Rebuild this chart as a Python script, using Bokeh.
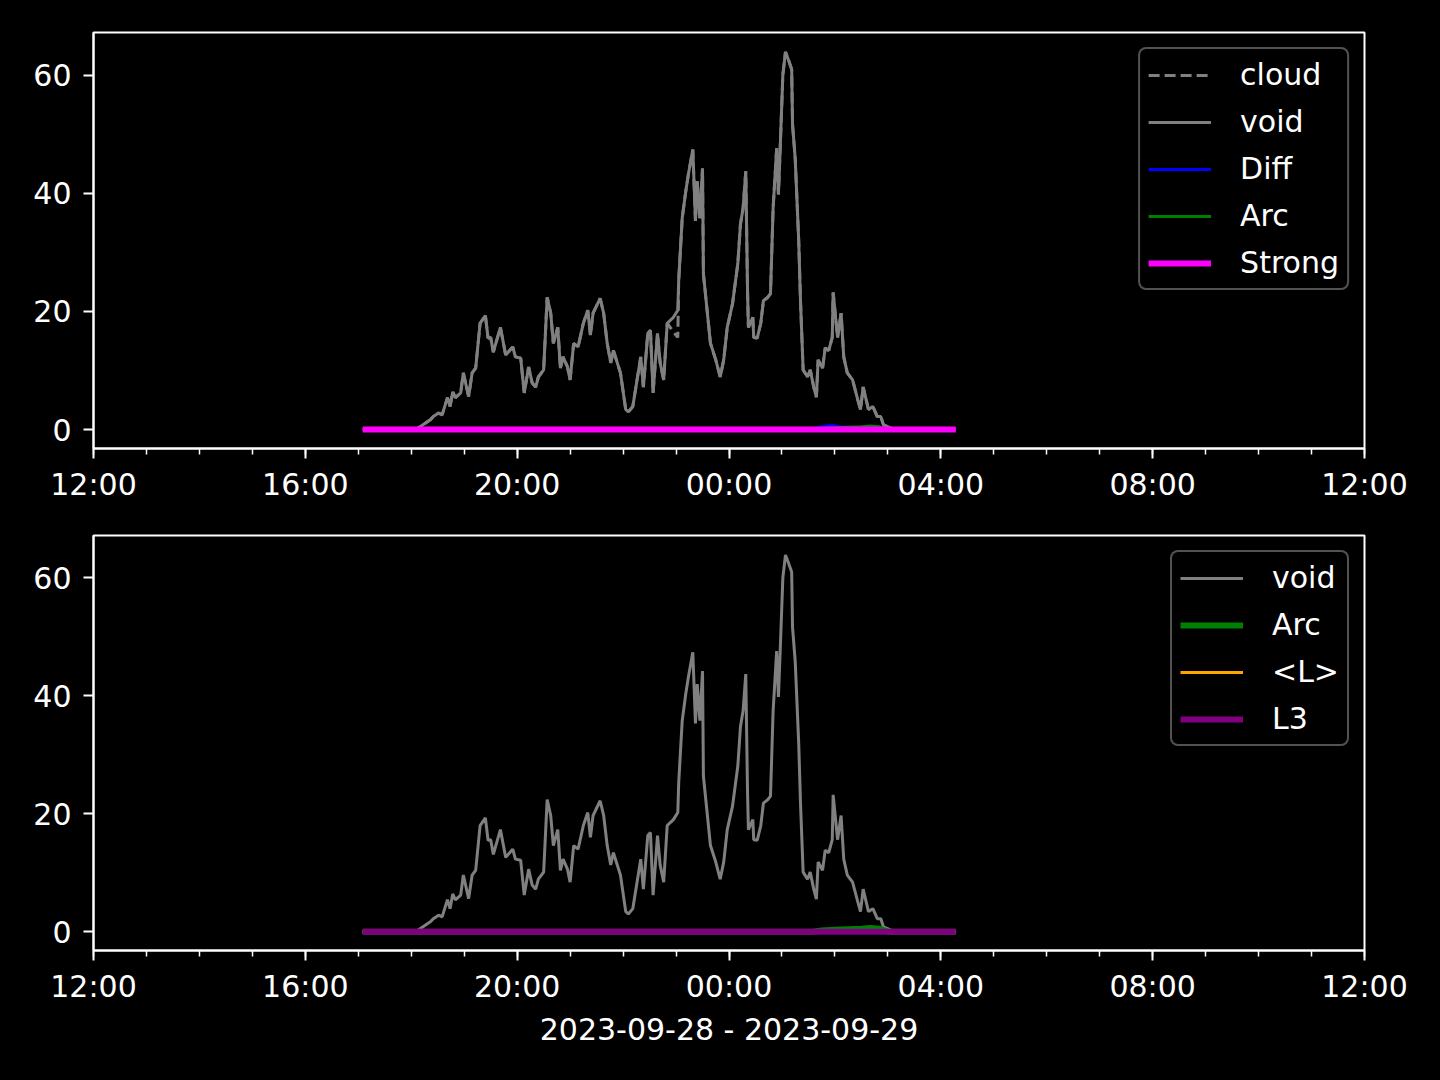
import pandas as pd
from bokeh.plotting import figure
from bokeh.layouts import column
from bokeh.models import Range1d, FixedTicker, DatetimeTickFormatter, Legend, LegendItem
from bokeh.embed import file_html
from bokeh.resources import INLINE

# ---------------- data ----------------
void_times = ["17:05","18:05","18:10","18:22","18:25","18:31","18:35","18:41","18:44","18:47",
              "18:50","18:56","18:59","19:05","19:09","19:13","19:18","19:24","19:27","19:30",
              "19:33","19:41","19:47","19:55","19:58","20:04","20:08","20:13","20:17","20:21",
              "20:24","20:30","20:34","20:38","20:41","20:46","20:49","20:52","20:57","21:00",
              "21:04","21:09","21:15","21:20","21:23","21:26","21:34","21:38","21:42","21:46",
              "21:49","21:57","22:03","22:06","22:11","22:14","22:20","22:23","22:28","22:31",
              "22:34","22:39","22:42","22:46","22:50","22:57","23:02","23:03","23:07","23:11",
              "23:14","23:19","23:22","23:24","23:27","23:30","23:31","23:36","23:39","23:45",
              "23:50","23:54","23:58","00:04","00:10","00:13","00:16","00:19","00:21","00:22",
              "00:27","00:28","00:32","00:36","00:39","00:44","00:47","00:50","00:54","00:56",
              "00:58","01:01","01:04","01:07","01:11","01:12","01:15","01:19","01:21","01:24",
              "01:29","01:32","01:36","01:39","01:41","01:46","01:49","01:53","01:57","01:58",
              "02:03","02:07","02:10","02:14","02:20","02:26","02:29","02:32","02:38","02:43",
              "02:48","02:52","02:55","03:03","03:10","04:17"]
void_values = [0, 0, 0.5, 1.7, 2.2, 2.8, 2.5, 5.4, 3.9, 6.4,
               5.4, 6.2, 9.6, 5.6, 9.6, 10.4, 18.0, 19.3, 15.5, 15.6,
               13.1, 17.3, 12.6, 14.0, 12.3, 12.1, 6.2, 10.6, 7.9, 7.2,
               8.9, 10.1, 22.4, 19.7, 14.6, 17.3, 10.4, 12.3, 10.6, 8.4,
               14.6, 14.0, 18.0, 20.2, 16.0, 19.7, 22.2, 19.7, 14.6, 11.3,
               13.4, 9.6, 3.4, 3.0, 3.9, 6.7, 12.3, 7.2, 16.3, 16.8,
               6.2, 16.3, 11.3, 8.4, 18.0, 19.0, 20.2, 25.2, 35.8, 40.3,
               43.2, 47.4, 35.3, 42.0, 35.8, 44.2, 26.4, 19.0, 14.6, 11.8,
               8.9, 11.8, 17.3, 21.3, 28.1, 34.8, 37.5, 43.7, 23.5, 17.3,
               19.0, 15.6, 15.5, 18.0, 21.8, 22.4, 23.0, 37.5, 47.6, 39.8,
               47.6, 60.0, 63.9, 62.7, 61.0, 51.6, 45.9, 31.9, 21.8, 10.1,
               8.9, 10.1, 7.2, 5.5, 11.8, 10.4, 13.8, 13.4, 15.6, 23.2,
               15.6, 19.7, 12.3, 9.6, 8.4, 5.0, 3.4, 7.2, 3.4, 3.9,
               2.2, 2.2, 0.8, 0.3, 0, 0]

# cloud follows void almost everywhere (hidden beneath it), differing only near 23:00
cloud_times = void_times
cloud_values = [0, 0, 0.5, 1.7, 2.2, 2.8, 2.5, 5.4, 3.9, 6.4,
                5.4, 6.2, 9.6, 5.6, 9.6, 10.4, 18.0, 19.3, 15.5, 15.6,
                13.1, 17.3, 12.6, 14.0, 12.3, 12.1, 6.2, 10.6, 7.9, 7.2,
                8.9, 10.1, 22.4, 19.7, 14.6, 17.3, 10.4, 12.3, 10.6, 8.4,
                14.6, 14.0, 18.0, 20.2, 16.0, 19.7, 22.2, 19.7, 14.6, 11.3,
                13.4, 9.6, 3.4, 3.0, 3.9, 6.7, 12.3, 7.2, 16.3, 16.8,
                6.2, 16.3, 11.3, 8.4, 18.0, 16.5, 15.6, 25.2, 35.8, 40.3,
                43.2, 47.4, 35.3, 42.0, 35.8, 44.2, 26.4, 19.0, 14.6, 11.8,
                8.9, 11.8, 17.3, 21.3, 28.1, 34.8, 37.5, 43.7, 23.5, 17.3,
                19.0, 15.6, 15.5, 18.0, 21.8, 22.4, 23.0, 37.5, 47.6, 39.8,
                47.6, 60.0, 63.9, 62.7, 61.0, 51.6, 45.9, 31.9, 21.8, 10.1,
                8.9, 10.1, 7.2, 5.5, 11.8, 10.4, 13.8, 13.4, 15.6, 23.2,
                15.6, 19.7, 12.3, 9.6, 8.4, 5.0, 3.4, 7.2, 3.4, 3.9,
                2.2, 2.2, 0.8, 0.3, 0, 0]

diff_times = ["17:05", "01:30", "01:40", "01:50", "01:57", "02:05", "02:15", "02:25", "02:35", "02:50", "04:17"]
diff_values = [0, 0, 0.3, 0.6, 0.7, 0.5, 0.4, 0.3, 0.3, 0, 0]

arc_times = ["17:05", "01:35", "01:45", "02:00", "02:15", "02:30", "02:40", "02:50", "03:00", "04:17"]
arc_values = [0, 0, 0.2, 0.3, 0.4, 0.5, 0.6, 0.5, 0, 0]

strong_times = ["17:05", "20:00", "00:00", "04:17"]
strong_values = [0, 0, 0, 0]

l_times = ["17:05", "20:00", "00:00", "04:17"]
l_values = [0, 0, 0, 0]

l3_times = ["17:05", "20:00", "00:00", "04:17"]
l3_values = [0, 0, 0, 0]

tick_times = ["2023-09-28 12:00", "2023-09-28 16:00", "2023-09-28 20:00", "2023-09-29 00:00",
              "2023-09-29 04:00", "2023-09-29 08:00", "2023-09-29 12:00"]
y_ticks = [0, 20, 40, 60]
x_label = "2023-09-28 - 2023-09-29"

FONT = "DejaVu Sans"


def to_dt(times):
    out = []
    for t in times:
        h = int(t[:2])
        day = "2023-09-28" if h >= 12 else "2023-09-29"
        out.append(pd.Timestamp(f"{day} {t}"))
    return out


def ms(ts):
    return pd.Timestamp(ts).value / 1e6


major = [ms(t) for t in tick_times]
minor = [ms(pd.Timestamp("2023-09-28 12:00") + pd.Timedelta(hours=h)) for h in range(25)]


def make_fig(frame_h, top, bottom, with_label):
    p = figure(x_axis_type="datetime",
               frame_width=1271, frame_height=frame_h,
               min_border_left=93, min_border_right=68,
               min_border_top=top, min_border_bottom=bottom,
               x_range=Range1d(pd.Timestamp(tick_times[0]), pd.Timestamp(tick_times[-1])),
               y_range=Range1d(-3.2, 67.2),
               toolbar_location=None, output_backend="svg",
               background_fill_color="black", border_fill_color="black")
    p.grid.visible = False
    p.outline_line_color = "white"
    p.outline_line_width = 2
    for ax in (p.xaxis[0], p.yaxis[0]):
        ax.axis_line_color = "white"
        ax.axis_line_width = 2
        ax.major_tick_line_color = "white"
        ax.major_tick_line_width = 2
        ax.minor_tick_line_color = "white"
        ax.minor_tick_line_width = 1.5
        ax.major_tick_out = 10
        ax.major_tick_in = 0
        ax.minor_tick_out = 6
        ax.minor_tick_in = 0
        ax.major_label_text_color = "white"
        ax.major_label_text_font = FONT
        ax.major_label_text_font_size = "30px"
    p.xaxis.ticker = FixedTicker(ticks=major, minor_ticks=minor)
    p.xaxis.formatter = DatetimeTickFormatter(
        minutes="%H:%M", hourmin="%H:%M", hours="%H:%M", days="%H:%M",
        months="%H:%M", years="%H:%M")
    p.xaxis.major_label_standoff = 8
    p.yaxis.ticker = FixedTicker(ticks=y_ticks, minor_ticks=[])
    p.yaxis.minor_tick_line_color = None
    p.yaxis.major_label_standoff = 12
    if with_label:
        p.xaxis.axis_label = x_label
        p.xaxis.axis_label_text_color = "white"
        p.xaxis.axis_label_text_font = FONT
        p.xaxis.axis_label_text_font_size = "30px"
        p.xaxis.axis_label_text_font_style = "normal"
        p.xaxis.axis_label_standoff = 5
    return p


def style_legend(lg):
    lg.label_text_font = FONT
    lg.label_text_font_size = "30px"
    lg.label_text_color = "white"
    lg.background_fill_color = "black"
    lg.background_fill_alpha = 1.0
    lg.border_line_color = "#a3a3a3"
    lg.border_line_width = 2.5
    lg.glyph_width = 63
    lg.glyph_height = 30
    lg.label_height = 30
    lg.spacing = 12
    lg.padding = 8
    lg.margin = 15
    lg.label_standoff = 29
    lg.location = "top_right"
    try:
        lg.border_radius = 8
    except Exception:
        pass


# ---------------- top panel ----------------
p1 = make_fig(416, 32, 80, False)
r_cloud = p1.line(to_dt(cloud_times), cloud_values, line_color="#808080", line_width=3, line_dash="11 5")
r_void1 = p1.line(to_dt(void_times), void_values, line_color="#808080", line_width=3)
r_diff = p1.line(to_dt(diff_times), diff_values, line_color="#0000ff", line_width=3)
r_arc1 = p1.line(to_dt(arc_times), arc_values, line_color="#008000", line_width=3)
r_strong = p1.line(to_dt(strong_times), strong_values, line_color="#ff00ff", line_width=6)
lg1 = Legend(items=[LegendItem(label="cloud", renderers=[r_cloud]),
                    LegendItem(label="void", renderers=[r_void1]),
                    LegendItem(label="Diff", renderers=[r_diff]),
                    LegendItem(label="Arc", renderers=[r_arc1]),
                    LegendItem(label="Strong", renderers=[r_strong])])
style_legend(lg1)
p1.add_layout(lg1)

# ---------------- bottom panel ----------------
p2 = make_fig(415, 7, 122, True)
r_void2 = p2.line(to_dt(void_times), void_values, line_color="#808080", line_width=3)
r_arc2 = p2.line(to_dt(arc_times), arc_values, line_color="#008000", line_width=6)
r_l = p2.line(to_dt(l_times), l_values, line_color="#ffa500", line_width=3)
r_l3 = p2.line(to_dt(l3_times), l3_values, line_color="#800080", line_width=6)
lg2 = Legend(items=[LegendItem(label="void", renderers=[r_void2]),
                    LegendItem(label="Arc", renderers=[r_arc2]),
                    LegendItem(label="<L>", renderers=[r_l]),
                    LegendItem(label="L3", renderers=[r_l3])])
style_legend(lg2)
p2.add_layout(lg2)

layout = column(p1, p2, spacing=0, styles={"background-color": "black"})

html = file_html(layout, INLINE)
html = html.replace("</head>", "<style>html, body { background-color: #000000; }</style></head>", 1)
open("out.html", "w").write(html)
